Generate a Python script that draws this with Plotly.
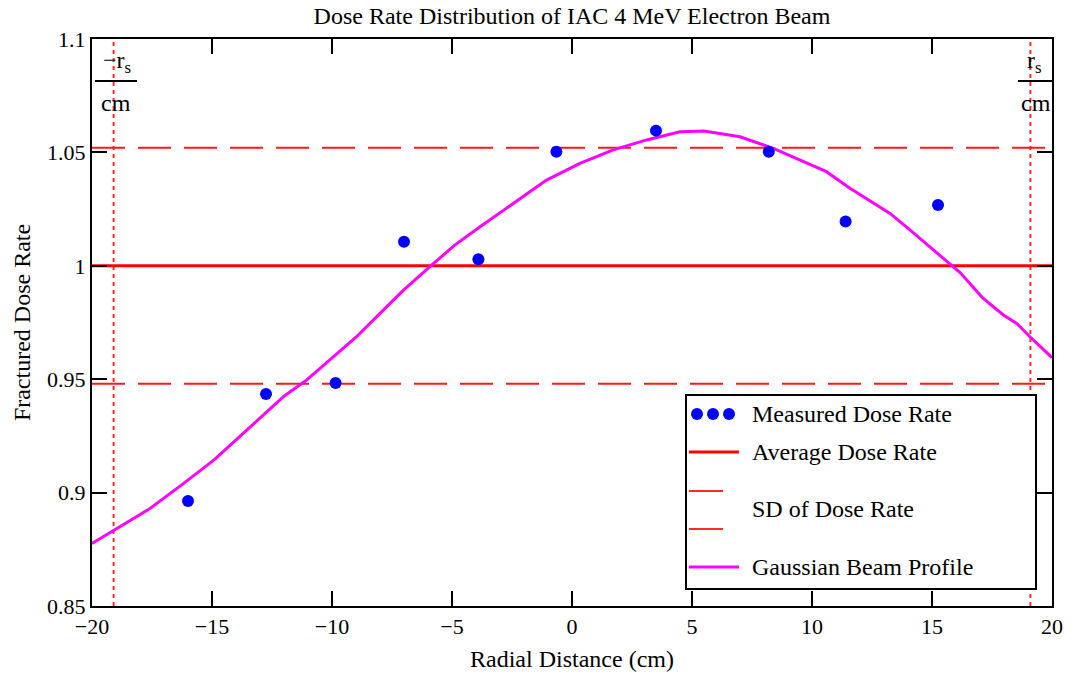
import plotly.graph_objects as go

# Measured dose rate at each radial position (cm)
radial_cm = [-16.0, -12.75, -9.85, -7.0, -3.9, -0.65, 3.5, 8.2, 11.4, 15.25]
dose_rate = [0.8963, 0.9435, 0.9483, 1.0106, 1.0029, 1.0503, 1.0596, 1.0503, 1.0195, 1.0268]

# Gaussian beam profile sampled across the field
profile_x = [-20.0, -19.1, -17.65, -16.25, -14.9, -13.45, -12.0, -11.05, -10.08, -9.0,
             -8.0, -7.0, -5.92, -4.9, -3.83, -2.45, -1.06, 0.33, 1.72, 3.11,
             4.5, 5.5, 7.0, 8.39, 9.78, 10.6, 11.58, 12.55, 13.25, 14.08,
             15.0, 16.17, 17.1, 17.97, 18.53, 19.08, 20.0]
profile_y = [0.8776, 0.8834, 0.8925, 0.9035, 0.9145, 0.9285, 0.9425, 0.9497, 0.9585, 0.9685,
             0.9790, 0.9895, 0.9996, 1.0090, 1.0172, 1.0276, 1.0378, 1.0452, 1.0511, 1.0555,
             1.0591, 1.0594, 1.0569, 1.0518, 1.0452, 1.0415, 1.0342, 1.0276, 1.0231, 1.0158,
             1.0075, 0.9970, 0.9860, 0.9783, 0.9746, 0.9687, 0.9595]

mean_rate = 1.0
sd_rate = 0.052
r_s = 19.1

x_range = [-20, 20]
y_range = [0.85, 1.1]
x_ticks = [-20, -15, -10, -5, 0, 5, 10, 15, 20]
y_ticks = [0.85, 0.9, 0.95, 1.0, 1.05, 1.1]

legend_labels = ["Measured Dose Rate", "Average Dose Rate", "SD of Dose Rate", "Gaussian Beam Profile"]

FONT = "Liberation Serif"
W, H = 1076, 679
M_L, M_R, M_T, M_B = 92, 24, 39, 73
PW, PH = W - M_L - M_R, H - M_T - M_B


def px(xp):
    return (xp - M_L) / PW


def py(yp):
    return (H - M_B - yp) / PH


fig = go.Figure()

# vertical markers at +/- r_s
for xv in (-r_s, r_s):
    fig.add_trace(go.Scatter(x=[xv, xv], y=y_range, mode="lines",
                             line=dict(color="#ff2a2a", width=2, dash="4px,4px"),
                             hoverinfo="skip"))

# mean +/- one standard deviation
for yv in (mean_rate + sd_rate, mean_rate - sd_rate):
    fig.add_trace(go.Scatter(x=x_range, y=[yv, yv], mode="lines",
                             line=dict(color="#ff1a1a", width=2, dash="33px,13px")))

fig.add_trace(go.Scatter(x=x_range, y=[mean_rate, mean_rate], mode="lines",
                         line=dict(color="#ff0000", width=3)))

fig.add_trace(go.Scatter(x=profile_x, y=profile_y, mode="lines",
                         line=dict(color="#ff00ff", width=3)))

fig.add_trace(go.Scatter(x=radial_cm, y=dose_rate, mode="markers",
                         marker=dict(color="#0000ff", size=12, line=dict(width=0))))

shapes = []
annotations = []

# legend box
shapes.append(dict(type="rect", xref="paper", yref="paper",
                   x0=px(686), x1=px(1036), y0=py(589), y1=py(395),
                   line=dict(color="black", width=2), fillcolor="white", layer="above"))
for cx in (697, 713, 729):
    shapes.append(dict(type="circle", xref="paper", yref="paper",
                       x0=px(cx - 6), x1=px(cx + 6), y0=py(414 + 6), y1=py(414 - 6),
                       line=dict(width=0), fillcolor="#0000ff", layer="above"))
shapes.append(dict(type="line", xref="paper", yref="paper",
                   x0=px(689), x1=px(739), y0=py(452), y1=py(452),
                   line=dict(color="#ff0000", width=3), layer="above"))
for yy in (491, 529):
    shapes.append(dict(type="line", xref="paper", yref="paper",
                       x0=px(689), x1=px(723), y0=py(yy), y1=py(yy),
                       line=dict(color="#ff2a2a", width=2), layer="above"))
shapes.append(dict(type="line", xref="paper", yref="paper",
                   x0=px(689), x1=px(739), y0=py(567), y1=py(567),
                   line=dict(color="#ff00ff", width=3), layer="above"))
for label, yy in zip(legend_labels, (414, 452, 509, 567)):
    annotations.append(dict(text=label, xref="paper", yref="paper", x=px(750), y=py(yy),
                            xanchor="left", yanchor="middle", showarrow=False,
                            font=dict(family=FONT, size=24, color="black")))

# r_s marker labels
shapes.append(dict(type="line", xref="paper", yref="paper",
                   x0=px(95), x1=px(137), y0=py(81), y1=py(81),
                   line=dict(color="black", width=2), layer="above"))
shapes.append(dict(type="line", xref="paper", yref="paper",
                   x0=px(1018), x1=px(1052), y0=py(81), y1=py(81),
                   line=dict(color="black", width=2), layer="above"))
annotations.append(dict(text="\u2212r<sub>s</sub>", xref="paper", yref="paper", x=px(117), y=py(62),
                        xanchor="center", yanchor="middle", showarrow=False,
                        font=dict(family=FONT, size=24, color="black")))
annotations.append(dict(text="r<sub>s</sub>", xref="paper", yref="paper", x=px(1034), y=py(62),
                        xanchor="center", yanchor="middle", showarrow=False,
                        font=dict(family=FONT, size=24, color="black")))
annotations.append(dict(text="cm", xref="paper", yref="paper", x=px(116), y=py(103),
                        xanchor="center", yanchor="middle", showarrow=False,
                        font=dict(family=FONT, size=24, color="black")))
annotations.append(dict(text="cm", xref="paper", yref="paper", x=px(1036), y=py(103),
                        xanchor="center", yanchor="middle", showarrow=False,
                        font=dict(family=FONT, size=24, color="black")))

axis_common = dict(showgrid=False, zeroline=False, showline=True, linecolor="black",
                   linewidth=2, mirror="ticks", ticks="inside", ticklen=15, tickwidth=2,
                   tickcolor="black", tickfont=dict(family=FONT, size=22, color="black"))

fig.update_layout(
    width=W, height=H,
    margin=dict(l=M_L, r=M_R, t=M_T, b=M_B),
    paper_bgcolor="white", plot_bgcolor="white",
    showlegend=False,
    title=dict(text="Dose Rate Distribution of IAC 4 MeV Electron Beam",
               font=dict(family=FONT, size=24, color="black"),
               x=(M_L + PW / 2) / W, xanchor="center",
               y=1 - 16 / H, yanchor="middle", yref="container"),
    xaxis=dict(range=x_range, tickvals=x_ticks,
               title=dict(text="Radial Distance (cm)", standoff=12,
                          font=dict(family=FONT, size=24, color="black")),
               **axis_common),
    yaxis=dict(range=y_range, tickvals=y_ticks,
               title=dict(text="Fractured Dose Rate", standoff=10,
                          font=dict(family=FONT, size=24, color="black")),
               **axis_common),
    shapes=shapes,
    annotations=annotations,
)

fig.write_html("out.html")
